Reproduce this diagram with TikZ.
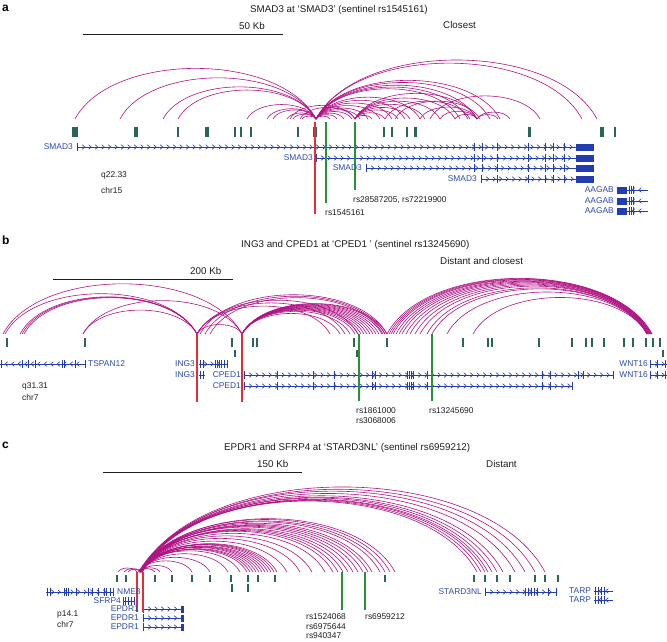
\documentclass[tikz,border=0pt]{standalone}
\usepackage{fontspec}
\setmainfont{Liberation Sans}
\definecolor{arcc}{RGB}{176,20,132}
\definecolor{genec}{RGB}{35,60,175}
\definecolor{glab}{RGB}{45,75,170}
\definecolor{featc}{RGB}{45,100,88}
\definecolor{redc}{RGB}{228,45,55}
\definecolor{greenc}{RGB}{40,145,55}
\definecolor{txt}{RGB}{30,30,30}
\tikzset{
  arcl/.style={draw=arcc, line width=0.6pt},
  gl/.style={draw=genec, line width=0.6pt},
  gt/.style={draw=genec, line width=0.9pt},
  gb/.style={fill=genec},
  ft/.style={fill=featc},
  snpr/.style={draw=redc, line width=1.3pt},
  snpg/.style={draw=greenc, line width=1.1pt},
  scalebar/.style={draw=txt, line width=0.7pt},
  lab/.style={font=\fontsize{8.4}{9}\selectfont, text=txt, inner sep=0pt},
  glabel/.style={lab, text=glab},
  head/.style={font=\fontsize{9.8}{11}\selectfont, text=txt, inner sep=0pt, anchor=west},
  panel/.style={font=\fontsize{12}{13}\selectfont\bfseries, text=black, inner sep=0pt, anchor=west}
}
\newcommand\harc[3]{%
  \draw[arcl] (#2,#1) .. controls +({0.15*(#3-#2)},{-0.28*(#3-#2)}) and +({-0.15*(#3-#2)},{-0.28*(#3-#2)}) .. (#3,#1);}
\newcommand\gtrack[4]{%
  \draw[gl] (#2,#1) -- (#3,#1);
  \pgfmathtruncatemacro\gn{max(1,floor((#3-#2-3)/6.5))}%
  \foreach \i in {1,...,\gn}{%
    \pgfmathsetmacro\gx{#2+\i*6.5}%
    \draw[gl] ({\gx-1.3*(#4)},{#1-2.3}) -- ({\gx+1.3*(#4)},#1) -- ({\gx-1.3*(#4)},{#1+2.3});
  }}
\newcommand\gticks[2]{\foreach \t in {#2} \draw[gt] (\t,{#1-4}) -- (\t,{#1+4});}
\newcommand\gblock[3]{\fill[gb] (#2,{#1-3.5}) rectangle (#3,{#1+3.5});}
\newcommand\feats[3]{\foreach \fx/\fw in {#3} \fill[ft] ({\fx-\fw/2},#1) rectangle ({\fx+\fw/2},#2);}
\begin{document}
\begin{tikzpicture}[x=1pt,y=-1pt]
\useasboundingbox (0,0) rectangle (667,641);
\fill[white] (0,0) rectangle (667,641);

% ================= panel a =================
\node[panel] (pa) at (2,8) {a};
\node[head] (ta) at (250,10) {SMAD3 at ‘SMAD3’ (sentinel rs1545161)};
\draw[scalebar] (83,34) -- (283,34);
\node[head] (sa) at (239,26) {50 Kb};
\node[head] (ca) at (443,25) {Closest};

\foreach \a/\b in {75/316,120/316,163/316,178/316,247/316,267/316,273/316,287/316,293/316,302/316,
  316/330,316/337,316/344,316/352,316/360,316/368,316/380,316/392,316/405,316/420,316/460,316/468,316/477,316/490,316/500,316/582,316/597,
  300/355,290/355,355/372,355/385,355/398,355/410,355/425,355/440,355/455,355/477,
  420/477,440/477,455/477,477/498,477/510,430/540,385/470,395/480}
  {\harc{119}{\a}{\b}}

\feats{127}{137}{75/6,136/4,178/1.3,207/4,235/1.3,241/1.3,251/2,298/1.3,315/4,384/2,392/1.5,407/1.3,415/3,529/3,602/4,615/1.5}

\gtrack{147}{77}{576}{1}\gticks{147}{77,474,482,497,528,545,553,564}\gblock{147}{576}{594}
\gtrack{158}{316}{576}{1}\gticks{158}{316,474,482,497,528,545,553,564}\gblock{158}{576}{594}
\gtrack{168}{366}{576}{1}\gticks{168}{366,474,482,497,528,545,553,564}\gblock{168}{576}{594}
\gtrack{179}{481}{576}{1}\gticks{179}{481,497,528,545,553,564}\gblock{179}{576}{594}
\foreach \yy in {190,201,211}{\gblock{\yy}{617}{627}\gtrack{\yy}{627}{648}{-1}\gticks{\yy}{629,631,633}}

\draw[snpr] (315,122) -- (315,214);
\draw[snpg] (326,122) -- (326,203);
\draw[snpg] (355,122) -- (355,190);

\node[glabel, anchor=east] (ga1) at (73,147) {SMAD3};
\node[glabel, anchor=east] (ga2) at (313,158) {SMAD3};
\node[glabel, anchor=east] (ga3) at (362,168) {SMAD3};
\node[glabel, anchor=east] (ga4) at (477,179) {SMAD3};
\node[glabel, anchor=east] (gb1) at (614,190) {AAGAB};
\node[glabel, anchor=east] (gb2) at (614,201) {AAGAB};
\node[glabel, anchor=east] (gb3) at (614,211) {AAGAB};
\node[lab, anchor=west] (qa) at (101,175) {q22.33};
\node[lab, anchor=west] (ka) at (101,190) {chr15};
\node[lab, anchor=west] (ra1) at (325,213) {rs1545161};
\node[lab, anchor=west] (ra2) at (353,200) {rs28587205, rs72219900};

% ================= panel b =================
\node[panel] (pb) at (2,240) {b};
\node[head] (tb) at (241,245) {ING3 and CPED1 at ‘CPED1 ’ (sentinel rs13245690)};
\draw[scalebar] (53,279) -- (233,279);
\node[head] (sb) at (190,271) {200 Kb};
\node[head] (cb) at (440,261) {Distant and closest};

\foreach \a/\b in {3/242,5/197,20/197,22/197,24/197,83/197,83/242,197/242,197/330,197/345,197/358,
  200/387,205/385,210/383,
  242/340,242/350,242/355,242/358,242/361,242/364,242/367,242/370,242/373,242/376,242/379,242/382,242/385,242/387,
  387/652,389/652,391/651,393/651,396/650,399/650,402/649,406/649,410/648,415/648,420/648,427/647,432/647,447/647,473/647}
  {\harc{334}{\a}{\b}}

\feats{338}{347}{7/1.2,85/1.5,232/1.2,253/1.2,257/1.2,354/1.2,387/1.2,463/1.2,488/1.2,492/1.2,539/1.2,572/1.2,586/1.2,592/1.2,604/1.2,624/1.2,633/1.5,646/1.2,653/2.5,660/1.2}
\feats{350}{357}{235/1.2,357/1.2,663/1.2}

\gtrack{364}{0}{85}{-1}\gticks{364}{1,22,28,35,62,64,75,85}
\gtrack{364}{199}{227}{1}\gticks{364}{200,203,215,217,219,221,224,227}
\draw[gl] (199,375) -- (205,375); \gticks{375}{200,203}
\gtrack{375}{244}{613}{1}\gticks{375}{244,277,313,334,372,375,407,409,411,413,427,542,550,578,583,613}
\gtrack{386}{244}{572}{1}\gticks{386}{244,277,313,334,372,375,407,409,411,413,427,542,550,572}
\gtrack{364}{650}{667}{1}\gticks{364}{650,657,665}
\gtrack{375}{650}{667}{1}\gticks{375}{650,657,665}

\draw[snpr] (197,334) -- (197,402);
\draw[snpr] (242,334) -- (242,402);
\draw[snpg] (359,334) -- (359,401);
\draw[snpg] (432,334) -- (432,401);

\node[glabel, anchor=west] (gc1) at (88,364) {TSPAN12};
\node[glabel, anchor=east] (gc2) at (195,364) {ING3};
\node[glabel, anchor=east] (gc3) at (195,375) {ING3};
\node[glabel, anchor=east] (gc4) at (241,375) {CPED1};
\node[glabel, anchor=east] (gc5) at (241,386) {CPED1};
\node[glabel, anchor=east] (gc6) at (648,364) {WNT16};
\node[glabel, anchor=east] (gc7) at (648,375) {WNT16};
\node[lab, anchor=west] (qb) at (22,386) {q31.31};
\node[lab, anchor=west] (kb) at (22,397) {chr7};
\node[lab, anchor=west] (rb1) at (356,411) {rs1861000};
\node[lab, anchor=west] (rb2) at (356,421) {rs3068006};
\node[lab, anchor=west] (rb3) at (429,411) {rs13245690};

% ================= panel c =================
\node[panel] (pc) at (2,445) {c};
\node[head] (tc) at (224,448) {EPDR1 and SFRP4 at ‘STARD3NL’ (sentinel rs6959212)};
\draw[scalebar] (103,472) -- (302,472);
\node[head] (sc) at (257,464) {150 Kb};
\node[head] (cc) at (486,464) {Distant};

\foreach \a/\b in {118/137,124/140,128/143,139/155,140/160,141/172,139/192,140/210,141/228,139/240,140/247,141/250,142/253,139/256,140/259,141/262,142/265,139/268,140/271,141/274,142/277,140/287,140/300,140/312,141/325,
  139/333,140/338,141/343,142/348,139/353,140/358,141/363,142/368,140/372,141/380,142/385,140/390,141/395,
  139/477,140/481,141/485,142/488,140/492,141/497,140/503,141/515,140/525,141/535,140/545}
  {\harc{572}{\a}{\b}}

\feats{575}{582}{117/1.3,126/1.3,155/1.2,172/1.2,192/1.2,210/1.2,231/1.2,248/1.2,258/1.2,275/1.2,385/1.2,474/1.2,485/2,497/1.2,510/1.2,535/1.2,545/1.2,558/1.2}
\feats{584}{592}{232/1.2,248/1.2}

\gtrack{592}{46}{113}{1}\gticks{592}{47,50,64,66,68,76,88,92,98,104,106,110,113}
\draw[gl] (123,601) -- (135,601); \gticks{601}{123,125,128,131,134}
\foreach \yy in {609,618,627}{\gtrack{\yy}{143}{181}{1}\gticks{\yy}{143}\gblock{\yy}{181}{184}}
\gtrack{592}{485}{556}{1}\gticks{592}{485,525,528,531,534,537,548,556}
\gtrack{591}{594}{613}{-1}\gticks{591}{595,598,601,604}
\gtrack{600}{594}{613}{-1}\gticks{600}{595,598,601,604}

\draw[snpr] (137,572) -- (137,612);
\draw[snpr] (143,572) -- (143,612);
\draw[snpg] (342,572) -- (342,610);
\draw[snpg] (365,572) -- (365,610);

\node[glabel, anchor=west] (gd1) at (117,592) {NME8};
\node[glabel, anchor=east] (gd2) at (121,601) {SFRP4};
\node[glabel, anchor=east] (gd3) at (139,609) {EPDR1};
\node[glabel, anchor=east] (gd4) at (139,618) {EPDR1};
\node[glabel, anchor=east] (gd5) at (139,627) {EPDR1};
\node[glabel, anchor=east] (gd6) at (482,592) {STARD3NL};
\node[glabel, anchor=west] (gd7) at (569,591) {TARP};
\node[glabel, anchor=west] (gd8) at (569,600) {TARP};
\node[lab, anchor=west] (qc) at (57,614) {p14.1};
\node[lab, anchor=west] (kc) at (57,624) {chr7};
\node[lab, anchor=west] (rc1) at (306,617) {rs1524068};
\node[lab, anchor=west] (rc2) at (306,626.5) {rs6975644};
\node[lab, anchor=west] (rc3) at (306,636) {rs940347};
\node[lab, anchor=west] (rc4) at (365,617) {rs6959212};
\end{tikzpicture}
\end{document}
